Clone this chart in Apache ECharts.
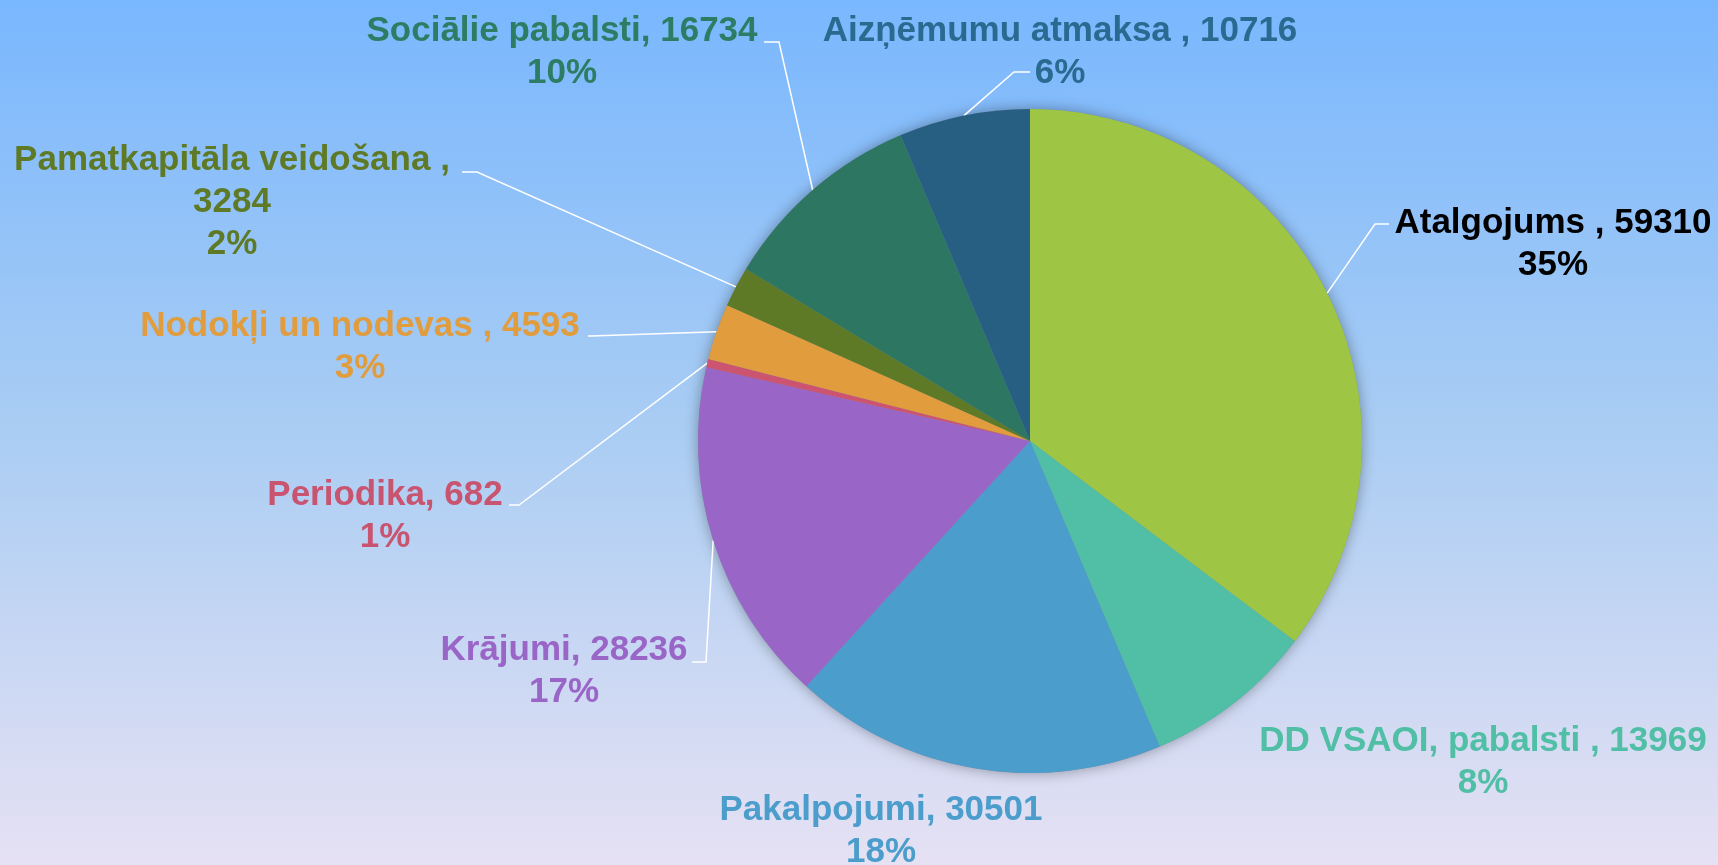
<!DOCTYPE html>
<html>
<head>
<meta charset="utf-8">
<script src="https://cdn.jsdelivr.net/npm/echarts@6/dist/echarts.min.js"></script>
<style>
html, body { margin: 0; padding: 0; }
#container { width: 1718px; height: 865px; }
</style>
</head>
<body>
<div id="container"></div>
<script>
// dati
var categories = ['Atalgojums ', 'DD VSAOI, pabalsti ', 'Pakalpojumi', 'Krājumi', 'Periodika',
    'Nodokļi un nodevas ', 'Pamatkapitāla veidošana ', 'Sociālie pabalsti', 'Aizņēmumu atmaksa '];
var values = [59310, 13969, 30501, 28236, 682, 4593, 3284, 16734, 10716];
var pctLabels = ['35%', '8%', '18%', '17%', '1%', '3%', '2%', '10%', '6%'];

// krāsas
var sliceColors = ['#9fc544', '#50bfa5', '#4b9dcb', '#9966c8', '#cd5470', '#e09c3d', '#5f7a27', '#2d7661', '#275f83'];
var labelColors = ['#000000', '#50bfa5', '#4b9dcb', '#9966c8', '#c95470', '#e09c3d', '#5f7a27', '#2d7d64', '#2a6a90'];

// etiķešu novietojums
var labelPos = [[1553, 244], [1483, 762], [881, 831], [564, 671], [385, 516],
    [360, 347], [232, 202], [562, 52], [1060, 52]];
var leaderEnds = [[1389, 224, -14], null, null, [692, 662, 14], [509, 505, 10],
    [588, 336, 3], [462, 172, 15], [764, 42, 15], [1030, 72, -16]];

var total = values.reduce(function (s, v) { return s + v; }, 0);

var dom = document.getElementById('container');
var myChart = echarts.init(dom);

var pieData = categories.map(function (name, i) {
    return {
        name: name,
        value: values[i],
        itemStyle: { color: sliceColors[i] },
        label: { color: labelColors[i] },
        labelLine: { show: !!leaderEnds[i] }
    };
});

var option = {
    backgroundColor: {
        type: 'linear', x: 0, y: 0, x2: 0, y2: 1,
        colorStops: [
            { offset: 0, color: '#79b7fe' },
            { offset: 0.5, color: '#aacdf3' },
            { offset: 1, color: '#e6e1f3' }
        ]
    },
    animation: false,
    series: [{
        // ēna zem pīrāga
        type: 'pie',
        center: [1030, 441],
        radius: 332,
        silent: true,
        z: 1,
        label: { show: false },
        labelLine: { show: false },
        itemStyle: {
            color: '#7d8fa8',
            shadowBlur: 14,
            shadowColor: 'rgba(0, 0, 0, 0.35)'
        },
        data: [{ name: 'ēna', value: total }]
    }, {
        type: 'pie',
        center: [1030, 441],
        radius: 332,
        startAngle: 90,
        clockwise: true,
        z: 2,
        avoidLabelOverlap: false,
        label: {
            show: true,
            fontFamily: 'Liberation Sans, Arial, sans-serif',
            fontWeight: 'bold',
            fontSize: 35,
            lineHeight: 42,
            align: 'center',
            formatter: function (p) {
                var sep = p.dataIndex === 6 ? ',\n' : ', ';
                return p.name + sep + p.value + '\n' + pctLabels[p.dataIndex];
            }
        },
        labelLine: {
            show: true,
            lineStyle: { color: '#ffffff', width: 1.5 }
        },
        labelLayout: function (params) {
            var i = params.dataIndex;
            var res = {
                x: labelPos[i][0],
                y: labelPos[i][1],
                align: 'center',
                verticalAlign: 'middle'
            };
            var lead = leaderEnds[i];
            if (lead && params.labelLinePoints) {
                var a = params.labelLinePoints[0];
                res.labelLinePoints = [[a[0], a[1]], [lead[0] + lead[2], lead[1]], [lead[0], lead[1]]];
            }
            return res;
        },
        data: pieData
    }]
};

if (option && typeof option === 'object') {
    myChart.setOption(option, true);
}
</script>
</body>
</html>
